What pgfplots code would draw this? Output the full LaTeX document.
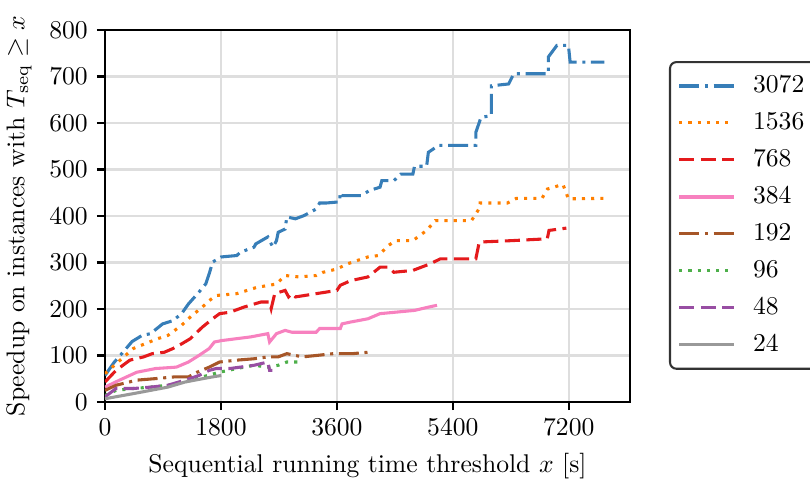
\documentclass[border=0pt]{standalone}
\usepackage{pgfplots}
\pgfplotsset{compat=1.18}
\definecolor{cBlue}{HTML}{377EB8}
\definecolor{cOrange}{HTML}{FF7F00}
\definecolor{cRed}{HTML}{E41A1C}
\definecolor{cPink}{HTML}{F781BF}
\definecolor{cBrown}{HTML}{A65628}
\definecolor{cGreen}{HTML}{4DAF4A}
\definecolor{cPurple}{HTML}{984EA3}
\definecolor{cGray}{HTML}{999999}
\tikzset{
  ddot/.style={dash pattern=on 7.8pt off 2.2pt on 1.2pt off 2.2pt},
  ddash/.style={dash pattern=on 5.9pt off 2.5pt},
  dotd/.style={dash pattern=on 1.2pt off 2.4pt},
}
\begin{document}
\begin{tikzpicture}
\begin{axis}[
  scale only axis,
  width=204.75pt, height=145.08pt,
  xmin=0, xmax=8150, ymin=0, ymax=800,
  xtick={0,1800,3600,5400,7200},
  ytick={0,100,...,800},
  scaled x ticks=false,
  xticklabel style={/pgf/number format/1000 sep={}},
  grid=major,
  major grid style={line width=0.8pt, draw=black!13},
  axis line style={line width=0.8pt},
  tick style={line width=0.8pt, black},
  tick align=outside,
  tick pos=left,
  major tick length=3.2pt,
  xlabel={Sequential running time threshold $x$ [s]},
  ylabel={Speedup on instances with $T_{\mathrm{seq}} \geq x$},
  every axis plot/.append style={line width=1.2pt, no markers},
  legend cell align=left,
  legend style={at={(1.0743,0.9166)}, anchor=north west, draw=black!80,
    line width=0.8pt, rounded corners=2.5pt, fill=white,
    inner xsep=3.0pt, inner ysep=3.7pt, row sep=3.2pt, column sep=5.2pt,
    nodes={inner sep=1.5pt}},
  legend image code/.code={\draw[#1] (0pt,0pt) -- (21.5pt,0pt);},
]
\coordinate (O) at (rel axis cs:0,0);
\addplot[cBlue, ddot] coordinates {
(0,57) (140,85) (279,107) (420,130) (573,143) (707,147) (895,168) (1055,175)
(1189,190) (1296,211) (1457,236) (1564,254) (1618,276) (1671,301) (1805,312)
(2046,315) (2100,322) (2314,333) (2340,340) (2528,355) (2580,340) (2609,333)
(2662,347) (2689,365) (2796,372) (2823,398) (2957,394) (3091,401) (3278,415)
(3332,428) (3439,428) (3600,430) (3640,430) (3653,451) (3680,444) (3975,444)
(4109,455) (4270,462) (4297,476) (4484,476) (4591,490) (4779,490) (4805,507)
(4993,507) (5020,537) (5180,552) (5757,552) (5757,580) (5837,612) (5998,616)
(5998,680) (6266,684) (6346,706) (6882,706) (6882,742) (7016,767) (7194,767)
(7221,731) (7752,731)};
\addlegendentry{3072}
\addplot[cOrange, dotd] coordinates {
(0,61) (171,82) (439,115) (814,136) (975,143) (1189,165) (1350,186) (1511,204)
(1618,218) (1725,229) (2046,233) (2368,247) (2555,251) (2662,254) (2796,272)
(3010,269) (3278,272) (3386,279) (3600,286) (3761,297) (4082,312) (4243,315)
(4404,337) (4511,347) (4779,347) (4993,369) (5127,390) (5689,390) (5823,419)
(5823,428) (6248,428) (6386,438) (6784,438) (6868,458) (7109,468) (7194,437)
(7752,438)};
\addlegendentry{1536}
\addplot[cRed, ddash] coordinates {
(0,43) (171,68) (386,90) (600,97) (734,104) (921,107) (1055,115) (1189,125)
(1323,136) (1511,161) (1671,179) (1779,190) (1939,193) (2154,204) (2421,215)
(2555,215) (2580,201) (2635,233) (2796,240) (2850,226) (2900,233) (2957,226)
(3278,233) (3600,240) (3653,251) (3814,261) (4082,269) (4270,290) (4404,290)
(4484,279) (4779,283) (5046,297) (5207,308) (5757,308) (5810,344) (6310,347)
(6866,351) (6893,369) (7162,374)};
\addlegendentry{768}
\addplot[cPink] coordinates {
(0,32) (225,47) (493,64) (787,72) (1109,75) (1296,86) (1457,100) (1618,115)
(1698,129) (1805,132) (2261,140) (2528,147) (2555,129) (2662,147) (2796,154)
(2903,150) (3278,150) (3332,158) (3653,158) (3680,168) (3814,172) (4082,179)
(4270,190) (4805,197) (5020,204) (5154,208)};
\addlegendentry{384}
\addplot[cBrown, ddot] coordinates {
(0,25) (171,36) (493,47) (761,50) (1082,54) (1296,54) (1430,64) (1618,75)
(1779,86) (2046,90) (2314,93) (2528,97) (2689,97) (2823,104) (3064,97)
(3278,100) (3546,104) (3841,104) (4082,107)};
\addlegendentry{192}
\addplot[cGreen, dotd] coordinates {
(0,14) (171,25) (439,29) (707,32) (975,36) (1243,43) (1511,54) (1779,64)
(2046,72) (2314,79) (2528,75) (2689,79) (2823,86) (3032,86)};
\addlegendentry{96}
\addplot[cPurple, ddash] coordinates {
(0,11) (171,29) (439,29) (707,32) (975,36) (1243,47) (1457,57) (1618,68)
(1725,72) (1939,72) (2100,75) (2314,79) (2528,86) (2555,68) (2600,68)};
\addlegendentry{48}
\addplot[cGray] coordinates {
(0,7) (439,18) (707,25) (975,32) (1243,43) (1511,50) (1671,54) (1805,57)};
\addlegendentry{24}
\end{axis}
\pgfresetboundingbox
\path (O) ++(-40.95pt,-30.42pt) rectangle ++(315.9pt,187.2pt);
\end{tikzpicture}
\end{document}
